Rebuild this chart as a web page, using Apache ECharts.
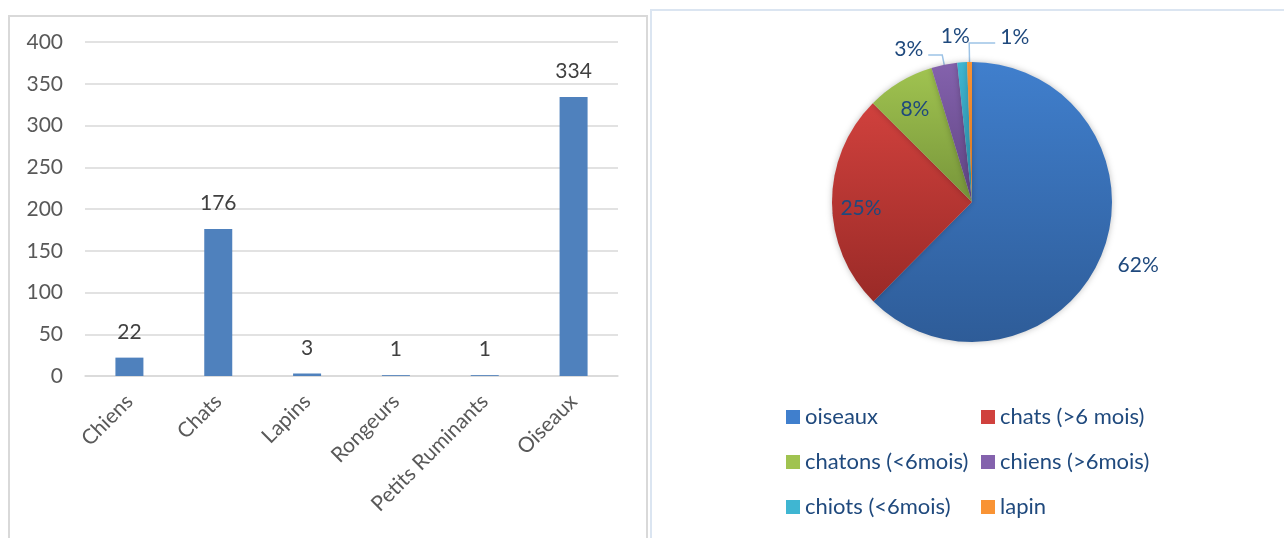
<!DOCTYPE html>
<html>
<head>
<meta charset="utf-8">
<script src="https://cdn.jsdelivr.net/npm/echarts@6/dist/echarts.min.js"></script>
<style>
  html, body { margin: 0; padding: 0; background: #fff; }
  #chart { width: 1284px; height: 538px; }
</style>
</head>
<body>
<div id="chart"></div>
<script>
// bar chart data
const barCategories = ['Chiens', 'Chats', 'Lapins', 'Rongeurs', 'Petits Ruminants', 'Oiseaux'];
const barValues = [22, 176, 3, 1, 1, 334];

// pie chart data
const pieNames = ['oiseaux', 'chats (>6 mois)', 'chatons (<6mois)', 'chiens (>6mois)', 'chiots (<6mois)', 'lapin'];
const pieValues = [334, 134, 42, 16, 6, 3];

const font = 'Lato, "Open Sans", sans-serif';
const textBlue = '#1f497d';
const pieCenter = [972, 202];

// slice colours, top -> bottom shade like the office theme
const sliceColors = [
  ['#407fcd', '#2e5c98'],
  ['#d0413d', '#9a2a27'],
  ['#a0c350', '#77953a'],
  ['#8462ad', '#5f4482'],
  ['#3fb6d2', '#2a8aa3'],
  ['#f99334', '#d27420'],
];
// label placement per slice
const labelInside = [false, true, true, false, false, false];
const lineCfg = [
  { show: false, length: 12, length2: 0 },
  null,
  null,
  { show: true, length: 10, length2: 14 },
  { show: false, length: 26, length2: 0 },
  { show: true, length: 19, length2: 26 },
];

const myChart = echarts.init(document.getElementById('chart'));

const pieData = pieNames.map((name, i) => {
  const item = {
    name: name,
    value: pieValues[i],
    itemStyle: {
      color: new echarts.graphic.LinearGradient(0, 0, 0, 1, [
        { offset: 0, color: sliceColors[i][0] },
        { offset: 1, color: sliceColors[i][1] },
      ]),
    },
  };
  if (labelInside[i]) {
    item.label = { position: 'inside' };
  }
  if (lineCfg[i]) {
    item.labelLine = lineCfg[i];
  }
  return item;
});

// nudge the labels towards where the office layout puts them
function pieLabelLayout(params) {
  const i = params.dataIndex;
  const r = params.labelRect;
  if (labelInside[i]) {
    const lx = r.x + r.width / 2;
    const ly = r.y + r.height / 2;
    return {
      x: pieCenter[0] + (lx - pieCenter[0]) * 1.52,
      y: pieCenter[1] + (ly - pieCenter[1]) * 1.52 + (i === 1 ? 6 : 2),
    };
  }
  if (i === 0) return { dy: 5 };
  if (i === 3) return { dy: -6 };
  if (i === 4) return { x: r.x + r.width, align: 'center' };
  if (i === 5 && params.labelLinePoints) {
    const pts = params.labelLinePoints;
    const p1 = pts[1];
    const p2 = [p1[0] + (p1[0] - pts[2][0]), pts[2][1]];
    return {
      x: p2[0] + 5,
      align: 'left',
      dy: -6,
      labelLinePoints: [pts[0], p1, p2],
    };
  }
  return {};
}

const legendIcon = (i) => ({
  name: pieNames[i],
  itemStyle: { color: sliceColors[i][0] },
});

const legendBase = {
  orient: 'vertical',
  top: 406,
  padding: 0,
  itemWidth: 14,
  itemHeight: 14,
  itemGap: 23,
  icon: 'rect',
  textStyle: { fontSize: 22, color: textBlue, fontFamily: font },
};

let option = {
  animation: false,
  textStyle: { fontFamily: font },
  graphic: [
    {
      type: 'rect',
      shape: { x: 9, y: 16, width: 638, height: 540 },
      style: { fill: 'none', stroke: '#d9d9d9', lineWidth: 2 },
      z: -1,
    },
    {
      type: 'rect',
      shape: { x: 651, y: 10, width: 640, height: 540 },
      style: { fill: 'none', stroke: '#dbe5f1', lineWidth: 2 },
      z: -1,
    },
  ],
  legend: [
    Object.assign({}, legendBase, { left: 786, data: [legendIcon(0), legendIcon(2), legendIcon(4)] }),
    Object.assign({}, legendBase, { left: 981, data: [legendIcon(1), legendIcon(3), legendIcon(5)] }),
  ],
  grid: {
    left: 85,
    right: 666,
    top: 42,
    bottom: 162,
  },
  xAxis: {
    type: 'category',
    data: barCategories,
    axisLine: { lineStyle: { color: '#d9d9d9', width: 1.5 } },
    axisTick: { show: false },
    axisLabel: {
      rotate: 45,
      interval: 0,
      margin: 22,
      fontSize: 21,
      color: '#595959',
      fontFamily: font,
    },
  },
  yAxis: {
    type: 'value',
    min: 0,
    max: 400,
    interval: 50,
    axisLine: { show: false },
    axisTick: { show: false },
    splitLine: { lineStyle: { color: '#d9d9d9', width: 1.5 } },
    axisLabel: {
      margin: 22,
      fontSize: 21,
      color: '#595959',
      fontFamily: font,
    },
  },
  series: [
    {
      type: 'bar',
      data: barValues,
      barWidth: 28,
      itemStyle: { color: '#4f81bd' },
      label: {
        show: true,
        position: 'top',
        distance: 15,
        fontSize: 21,
        color: '#404040',
        fontFamily: font,
      },
    },
    {
      type: 'pie',
      center: pieCenter,
      radius: 140,
      startAngle: 90,
      clockwise: true,
      avoidLabelOverlap: false,
      data: pieData,
      itemStyle: {
        borderWidth: 0,
        shadowBlur: 6,
        shadowColor: 'rgba(0,0,0,0.25)',
      },
      label: {
        show: true,
        position: 'outside',
        formatter: (p) => Math.round(p.percent) + '%',
        fontSize: 21,
        color: textBlue,
        fontFamily: font,
      },
      labelLine: {
        show: true,
        length: 10,
        length2: 12,
        lineStyle: { color: '#9dc3e6', width: 1.5 },
      },
      labelLayout: pieLabelLayout,
      emphasis: { disabled: true },
    },
  ],
};

myChart.setOption(option);
</script>
</body>
</html>
